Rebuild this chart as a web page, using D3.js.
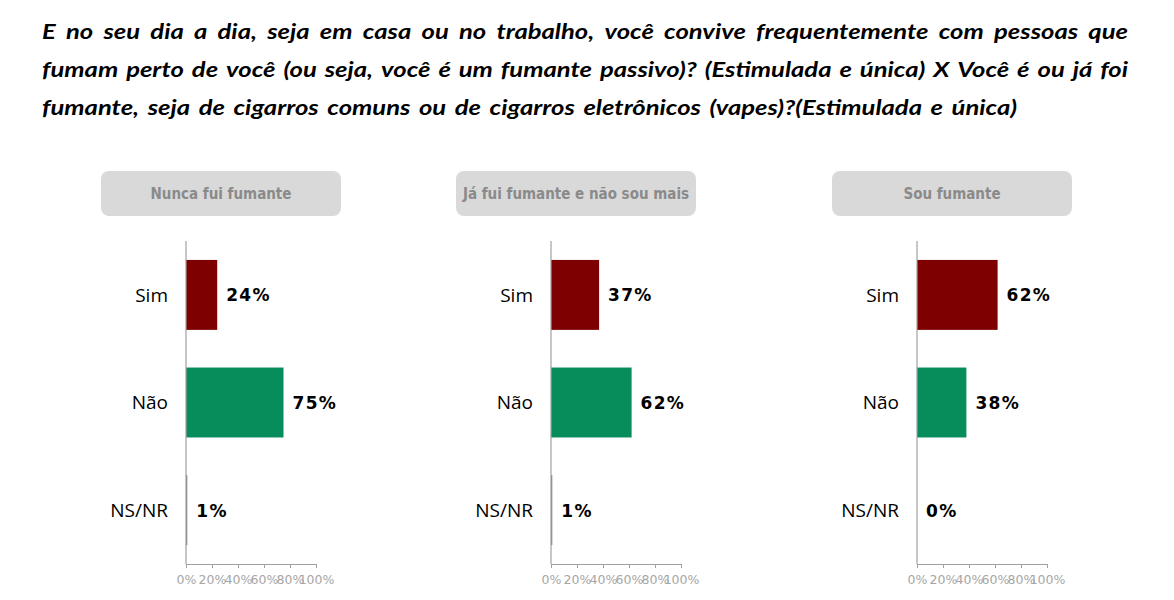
<!DOCTYPE html>
<html>
<head>
<meta charset="utf-8">
<script src="https://cdn.jsdelivr.net/npm/d3@7"></script>
<style>
  body { margin: 0; background: #fff; }
  svg { display: block; }
</style>
</head>
<body>
<div id="chart"></div>
<script>
const titleLines = [
  "E no seu dia a dia, seja em casa ou no trabalho, você convive frequentemente com pessoas que",
  "fumam perto de você (ou seja, você é um fumante passivo)? (Estimulada e única) X Você é ou já foi",
  "fumante, seja de cigarros comuns ou de cigarros eletrônicos (vapes)?(Estimulada e única)"
];
const groups = ["Nunca fui fumante", "Já fui fumante e não sou mais", "Sou fumante"];
const categories = ["Sim", "Não", "NS/NR"];
const values = [
  [24, 75, 1],
  [37, 62, 1],
  [62, 38, 0]
];
const ticks = [0, 20, 40, 60, 80, 100];
const colors = ["#7f0000", "#078c5c", "#808080"];

const width = 1174, height = 600;
const svg = d3.select("#chart").append("svg")
  .attr("width", width).attr("height", height);

// title: glyphs are stretched sideways in the original, justified except last line
const titleLeft = 42, titleRight = 1128, sx = 1.19;
const titleY = [39, 77, 115];
titleLines.forEach((line, i) => {
  const words = line.split(" ");
  const g = svg.append("g").attr("transform", `translate(${titleLeft},${titleY[i]}) scale(${sx},1)`);
  const nodes = words.map(w => g.append("text")
    .attr("y", 0)
    .attr("font-family", "Lato, 'Open Sans', sans-serif")
    .attr("font-size", 21.5)
    .attr("font-weight", "bold")
    .attr("font-style", "italic")
    .attr("fill", "#000")
    .text(w));
  const widths = nodes.map(n => n.node().getComputedTextLength());
  const total = d3.sum(widths);
  const last = i === titleLines.length - 1;
  const avail = (titleRight - titleLeft) / sx;
  const gap = last ? 7.2 : (avail - total) / (words.length - 1);
  let x = 0;
  nodes.forEach((n, j) => { n.attr("x", x); x += widths[j] + gap; });
});

// panels
const panelX = [186, 551, 917];
const headerX = [101, 456, 832];
const axisTop = 241, axisBottom = 564;

const x = d3.scaleLinear().domain([0, 100]).range([0, 130]);
const y = d3.scaleBand().domain(categories)
  .range([axisTop, axisBottom]).paddingInner(0.35).paddingOuter(0.176);

groups.forEach((grp, gi) => {
  const p = svg.append("g");

  p.append("rect")
    .attr("x", headerX[gi]).attr("y", 171)
    .attr("width", 240).attr("height", 45)
    .attr("rx", 8)
    .attr("fill", "#d9d9d9");
  p.append("text")
    .attr("x", headerX[gi] + 120).attr("y", 199)
    .attr("text-anchor", "middle")
    .attr("font-family", "'DejaVu Sans Condensed', 'DejaVu Sans', sans-serif")
    .attr("font-size", 15)
    .attr("font-weight", "bold")
    .attr("fill", "#8a8a8a")
    .text(grp);

  const g = p.append("g").attr("transform", `translate(${panelX[gi]},0)`);
  const rows = categories.map((c, ci) => ({ cat: c, value: values[gi][ci], ci }));

  g.selectAll("rect.bar")
    .data(rows)
    .join("rect")
    .attr("class", "bar")
    .attr("x", x(0))
    .attr("y", d => y(d.cat))
    .attr("width", d => x(d.value))
    .attr("height", y.bandwidth())
    .attr("fill", d => colors[d.ci]);

  // category labels
  g.selectAll("text.cat")
    .data(rows)
    .join("text")
    .attr("class", "cat")
    .attr("x", -18)
    .attr("y", d => y(d.cat) + y.bandwidth() / 2)
    .attr("dy", "0.35em")
    .attr("text-anchor", "end")
    .attr("font-family", "'Open Sans', sans-serif")
    .attr("font-size", 19)
    .attr("fill", "#000")
    .text(d => d.cat);

  // value labels
  g.selectAll("text.val")
    .data(rows)
    .join("text")
    .attr("class", "val")
    .attr("x", d => x(d.value) + 9)
    .attr("y", d => y(d.cat) + y.bandwidth() / 2)
    .attr("dy", "0.38em")
    .attr("font-family", "'DejaVu Sans', Verdana, sans-serif")
    .attr("font-size", 17)
    .attr("font-weight", "bold")
    .attr("letter-spacing", 1.3)
    .attr("fill", "#000")
    .text(d => d.value + "%");

  // vertical category axis line
  g.append("line")
    .attr("x1", 0).attr("x2", 0)
    .attr("y1", axisTop).attr("y2", axisBottom)
    .attr("stroke", "#a0a0a0").attr("stroke-width", 1.2);

  // bottom value axis (labels overlap in the original too)
  const xAxis = g.append("g")
    .attr("transform", `translate(0,${axisBottom})`)
    .call(d3.axisBottom(x).tickValues(ticks).tickFormat(d => d + "%").tickSize(4).tickPadding(7));
  xAxis.select(".domain").attr("stroke", "#a0a0a0");
  xAxis.selectAll(".tick line").attr("stroke", "#a0a0a0");
  xAxis.selectAll(".tick text")
    .attr("fill", "#a6a6a6")
    .attr("font-family", "'DejaVu Sans', Verdana, sans-serif")
    .attr("font-size", 12.5);
});
</script>
</body>
</html>
